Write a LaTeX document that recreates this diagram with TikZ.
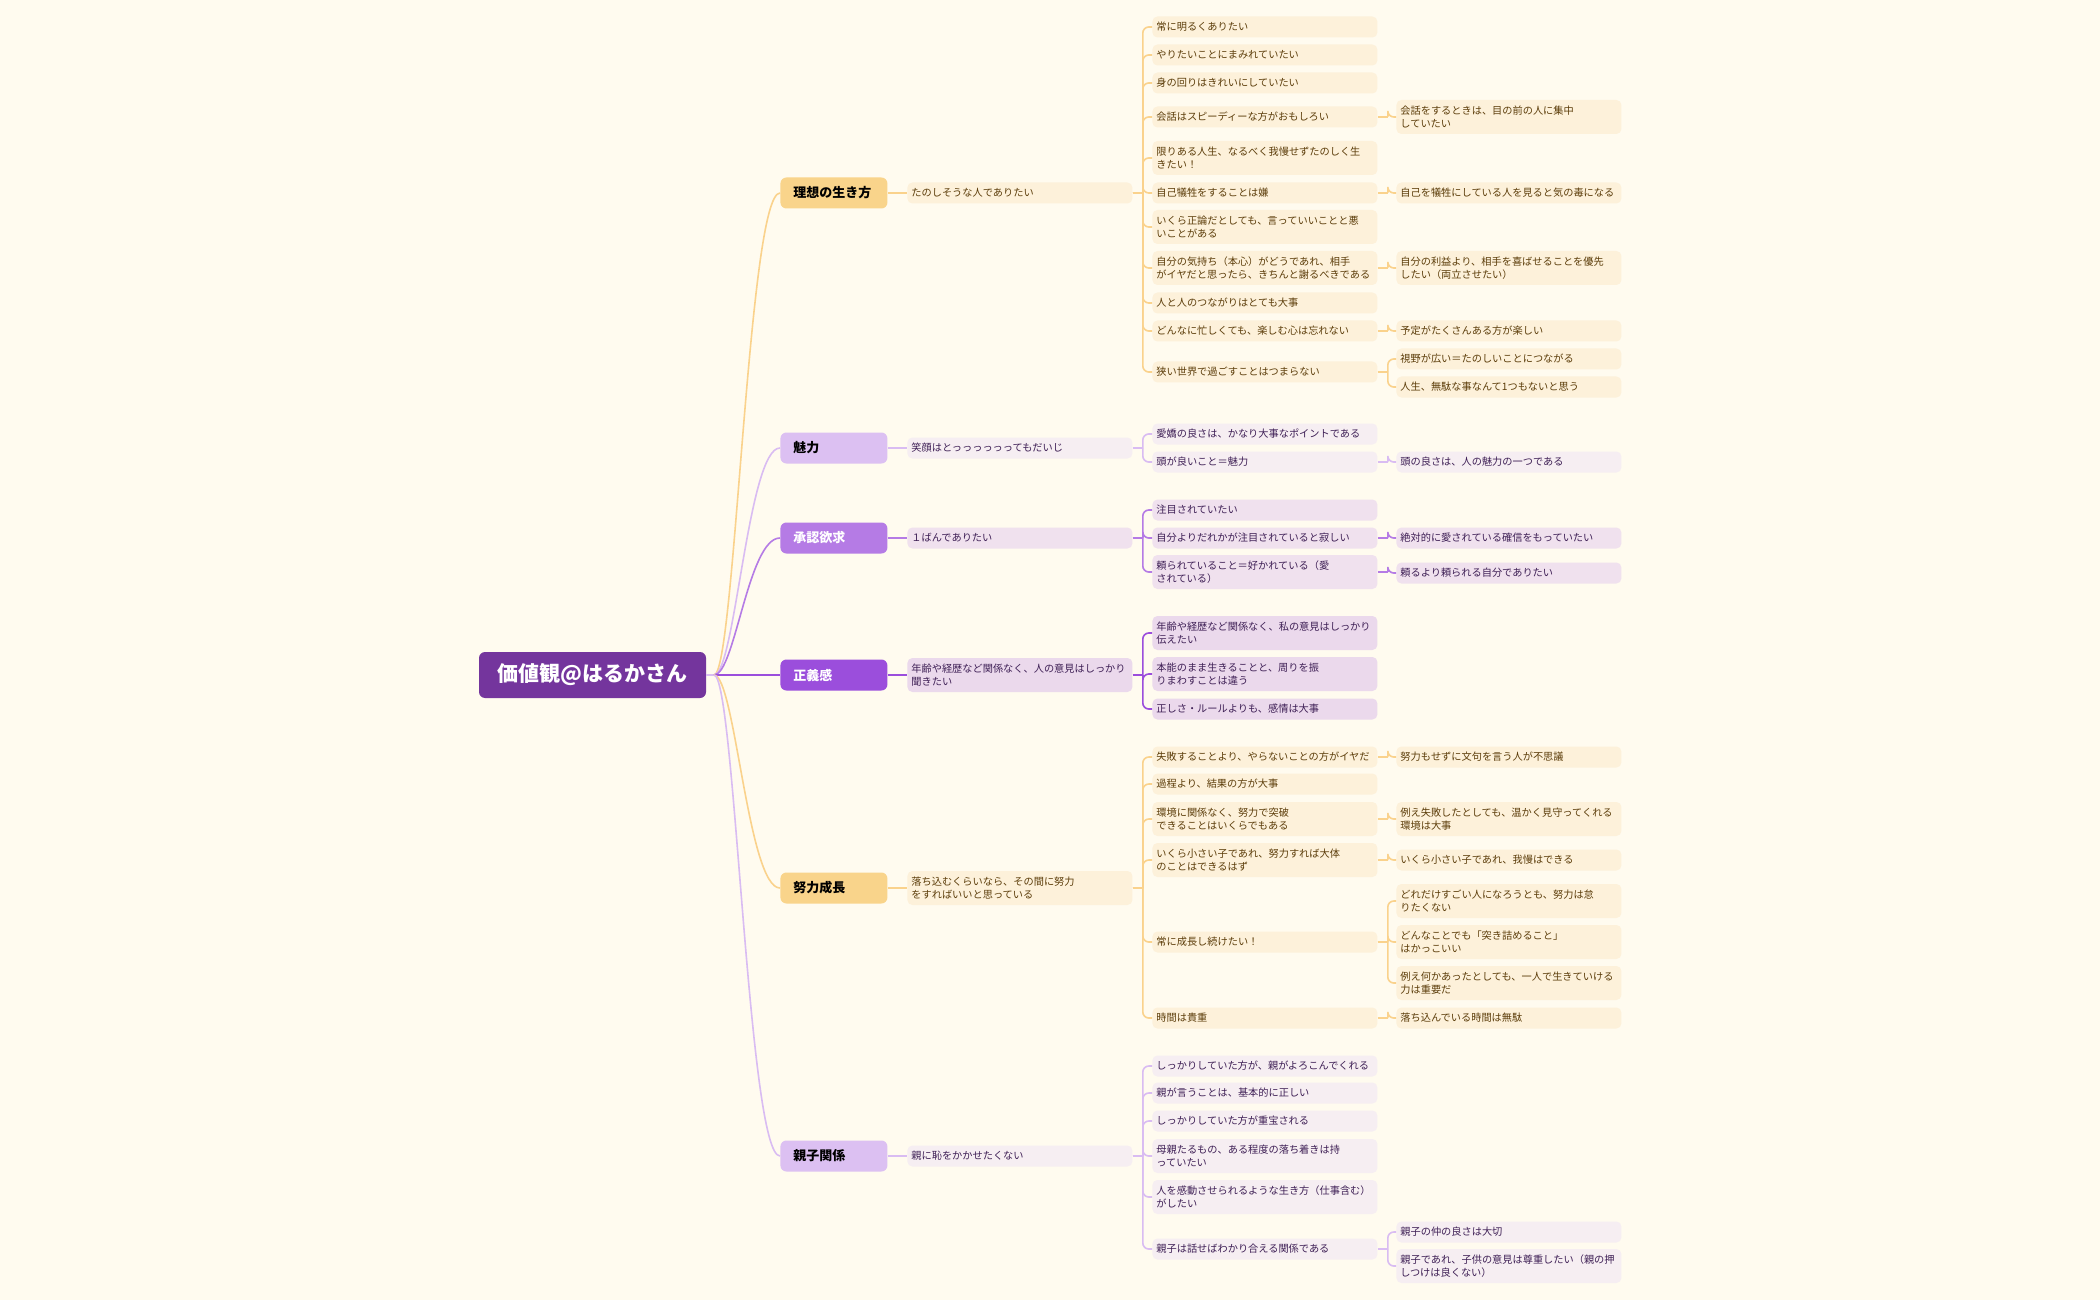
\documentclass[tikz,border=0pt]{standalone}
\usepackage{fontspec}
\setmainfont{Noto Sans CJK JP}
\definecolor{bg}{HTML}{FFFBEF}
\definecolor{oM}{HTML}{F9D48B}
\definecolor{oL}{HTML}{FAD28C}
\definecolor{oS}{HTML}{FDF1DA}
\definecolor{oT}{HTML}{5C3D0A}
\definecolor{pM}{HTML}{DCC0F2}
\definecolor{pL}{HTML}{D9BCF2}
\definecolor{pS}{HTML}{F6EEF2}
\definecolor{pT}{HTML}{3E1F55}
\definecolor{mM}{HTML}{B57BE5}
\definecolor{mS}{HTML}{F0E1EE}
\definecolor{dM}{HTML}{9B4EDC}
\definecolor{dS}{HTML}{EBD9EC}
\definecolor{rootc}{HTML}{74359D}
\tikzset{
 sub/.style={rounded corners=2.5pt, anchor=west, align=left, inner xsep=2pt, inner ysep=0pt, text width=108.5pt, minimum height=10.5pt, font=\fontsize{5.1}{6.6}\selectfont},
 two/.style={minimum height=17pt},
 O/.style={sub, fill=oS, text=oT},
 P/.style={sub, fill=pS, text=pT},
 Mi/.style={sub, fill=mS, text=pT},
 Dp/.style={sub, fill=dS, text=pT},
 topic/.style={rounded corners=3pt, anchor=west, align=left, inner xsep=6.5pt, inner ysep=0pt, text width=40.5pt, minimum height=15.5pt, font=\bfseries\fontsize{6.5}{7}\selectfont},
 lnO/.style={draw=oL, line width=0.8pt},
 lnP/.style={draw=pL, line width=0.8pt},
 lnM/.style={draw=mM, line width=0.8pt},
 lnD/.style={draw=dM, line width=0.8pt},
}
\newcommand\br[3]{\draw[#1] (#2.east) -- ++(5pt,0) coordinate (jj); \draw[#1,rounded corners=3pt] (jj) |- (#3.west);}
\newcommand\tc[3]{\draw[#1] (hub) .. controls (735,675) and (748,#3) .. (#2.west);}
\begin{document}
\begin{tikzpicture}[x=0.5pt,y=-0.5pt]
\fill[bg] (0,0) rectangle (2100,1300);
\useasboundingbox (0,0) rectangle (2100,1300);
% root
\node[fill=rootc, text=white, rounded corners=3pt, minimum width=113.5pt, minimum height=23pt, inner sep=0pt, font=\bfseries\fontsize{10.5}{12}\selectfont] (root) at (592.5,675) {価値観@はるかさん};
\coordinate (hub) at (714,675);
% topics
\node[topic, fill=oM, text=black] (t1) at (780,193) {理想の生き方};
\node[topic, fill=pM, text=black] (t2) at (780,448) {魅力};
\node[topic, fill=mM, text=white] (t3) at (780,538) {承認欲求};
\node[topic, fill=dM, text=white] (t4) at (780,675) {正義感};
\node[topic, fill=oM, text=black] (t5) at (780,888) {努力成長};
\node[topic, fill=pM, text=black] (t6) at (780,1156) {親子関係};
\draw[lnP] (root.east) -- (hub);
\tc{lnO}{t1}{193}
\tc{lnP}{t2}{448}
\tc{lnM}{t3}{538}
\draw[lnD] (hub) -- (t4.west);
\tc{lnO}{t5}{888}
\tc{lnP}{t6}{1156}
% level 1
\node[O] (a) at (907,193) {たのしそうな人でありたい};
\node[P] (b) at (907,448) {笑顔はとっっっっっってもだいじ};
\node[Mi] (c) at (907,538) {１ばんでありたい};
\node[Dp,two] (d) at (907,675) {年齢や経歴など関係なく、人の意見はしっかり\\聞きたい};
\node[O,two] (e) at (907,888) {落ち込むくらいなら、その間に努力\\をすればいいと思っている};
\node[P] (f) at (907,1156) {親に恥をかかせたくない};
\draw[lnO] (t1.east) -- (a.west);
\draw[lnP] (t2.east) -- (b.west);
\draw[lnM] (t3.east) -- (c.west);
\draw[lnD] (t4.east) -- (d.west);
\draw[lnO] (t5.east) -- (e.west);
\draw[lnP] (t6.east) -- (f.west);
% branch a
\node[O] (a1) at (1152,27) {常に明るくありたい};
\node[O] (a2) at (1152,55) {やりたいことにまみれていたい};
\node[O] (a3) at (1152,83) {身の回りはきれいにしていたい};
\node[O] (a4) at (1152,117) {会話はスピーディーな方がおもしろい};
\node[O,two] (a5) at (1152,158) {限りある人生、なるべく我慢せずたのしく生\\きたい！};
\node[O] (a6) at (1152,193) {自己犠牲をすることは嫌};
\node[O,two] (a7) at (1152,227) {いくら正論だとしても、言っていいことと悪\\いことがある};
\node[O,two] (a8) at (1152,268) {自分の気持ち（本心）がどうであれ、相手\\がイヤだと思ったら、きちんと謝るべきである};
\node[O] (a9) at (1152,303) {人と人のつながりはとても大事};
\node[O] (a10) at (1152,331) {どんなに忙しくても、楽しむ心は忘れない};
\node[O] (a11) at (1152,372) {狭い世界で過ごすことはつまらない};
\foreach \n in {a1,a2,a3,a4,a5,a6,a7,a8,a9,a10,a11} {\br{lnO}{a}{\n}}
\node[O,two] (a4x) at (1396,117) {会話をするときは、目の前の人に集中\\していたい};
\node[O] (a6x) at (1396,193) {自己を犠牲にしている人を見ると気の毒になる};
\node[O,two] (a8x) at (1396,268) {自分の利益より、相手を喜ばせることを優先\\したい（両立させたい）};
\node[O] (a10x) at (1396,331) {予定がたくさんある方が楽しい};
\node[O] (a11x) at (1396,359) {視野が広い＝たのしいことにつながる};
\node[O] (a11y) at (1396,387) {人生、無駄な事なんて1つもないと思う};
\br{lnO}{a4}{a4x}
\br{lnO}{a6}{a6x}
\br{lnO}{a8}{a8x}
\br{lnO}{a10}{a10x}
\br{lnO}{a11}{a11x}
\br{lnO}{a11}{a11y}
% branch b
\node[P] (b1) at (1152,434) {愛嬌の良さは、かなり大事なポイントである};
\node[P] (b2) at (1152,462) {頭が良いこと＝魅力};
\node[P] (b2x) at (1396,462) {頭の良さは、人の魅力の一つである};
\br{lnP}{b}{b1}
\br{lnP}{b}{b2}
\br{lnP}{b2}{b2x}
% branch c
\node[Mi] (c1) at (1152,510) {注目されていたい};
\node[Mi] (c2) at (1152,538) {自分よりだれかが注目されていると寂しい};
\node[Mi,two] (c3) at (1152,572) {頼られていること＝好かれている（愛\\されている）};
\node[Mi] (c2x) at (1396,538) {絶対的に愛されている確信をもっていたい};
\node[Mi] (c3x) at (1396,573) {頼るより頼られる自分でありたい};
\br{lnM}{c}{c1}
\br{lnM}{c}{c2}
\br{lnM}{c}{c3}
\br{lnM}{c2}{c2x}
\br{lnM}{c3}{c3x}
% branch d
\node[Dp,two] (d1) at (1152,633) {年齢や経歴など関係なく、私の意見はしっかり\\伝えたい};
\node[Dp,two] (d2) at (1152,674) {本能のまま生きることと、周りを振\\りまわすことは違う};
\node[Dp] (d3) at (1152,709) {正しさ・ルールよりも、感情は大事};
\br{lnD}{d}{d1}
\br{lnD}{d}{d2}
\br{lnD}{d}{d3}
% branch e
\node[O] (e1) at (1152,757) {失敗することより、やらないことの方がイヤだ};
\node[O] (e2) at (1152,784) {過程より、結果の方が大事};
\node[O,two] (e3) at (1152,819) {環境に関係なく、努力で突破\\できることはいくらでもある};
\node[O,two] (e4) at (1152,860) {いくら小さい子であれ、努力すれば大体\\のことはできるはず};
\node[O] (e5) at (1152,942) {常に成長し続けたい！};
\node[O] (e6) at (1152,1018) {時間は貴重};
\foreach \n in {e1,e2,e3,e4,e5,e6} {\br{lnO}{e}{\n}}
\node[O] (e1x) at (1396,757) {努力もせずに文句を言う人が不思議};
\node[O,two] (e3x) at (1396,819) {例え失敗したとしても、温かく見守ってくれる\\環境は大事};
\node[O] (e4x) at (1396,860) {いくら小さい子であれ、我慢はできる};
\node[O,two] (e5x) at (1396,901) {どれだけすごい人になろうとも、努力は怠\\りたくない};
\node[O,two] (e5y) at (1396,942) {どんなことでも「突き詰めること」\\はかっこいい};
\node[O,two] (e5z) at (1396,983) {例え何かあったとしても、一人で生きていける\\力は重要だ};
\node[O] (e6x) at (1396,1018) {落ち込んでいる時間は無駄};
\br{lnO}{e1}{e1x}
\br{lnO}{e3}{e3x}
\br{lnO}{e4}{e4x}
\br{lnO}{e5}{e5x}
\br{lnO}{e5}{e5y}
\br{lnO}{e5}{e5z}
\br{lnO}{e6}{e6x}
% branch f
\node[P] (f1) at (1152,1066) {しっかりしていた方が、親がよろこんでくれる};
\node[P] (f2) at (1152,1093) {親が言うことは、基本的に正しい};
\node[P] (f3) at (1152,1121) {しっかりしていた方が重宝される};
\node[P,two] (f4) at (1152,1156) {母親たるもの、ある程度の落ち着きは持\\っていたい};
\node[P,two] (f5) at (1152,1197) {人を感動させられるような生き方（仕事含む）\\がしたい};
\node[P] (f6) at (1152,1249) {親子は話せばわかり合える関係である};
\foreach \n in {f1,f2,f3,f4,f5,f6} {\br{lnP}{f}{\n}}
\node[P] (f6x) at (1396,1232) {親子の仲の良さは大切};
\node[P,two] (f6y) at (1396,1266) {親子であれ、子供の意見は尊重したい（親の押\\しつけは良くない）};
\br{lnP}{f6}{f6x}
\br{lnP}{f6}{f6y}
\end{tikzpicture}
\end{document}
